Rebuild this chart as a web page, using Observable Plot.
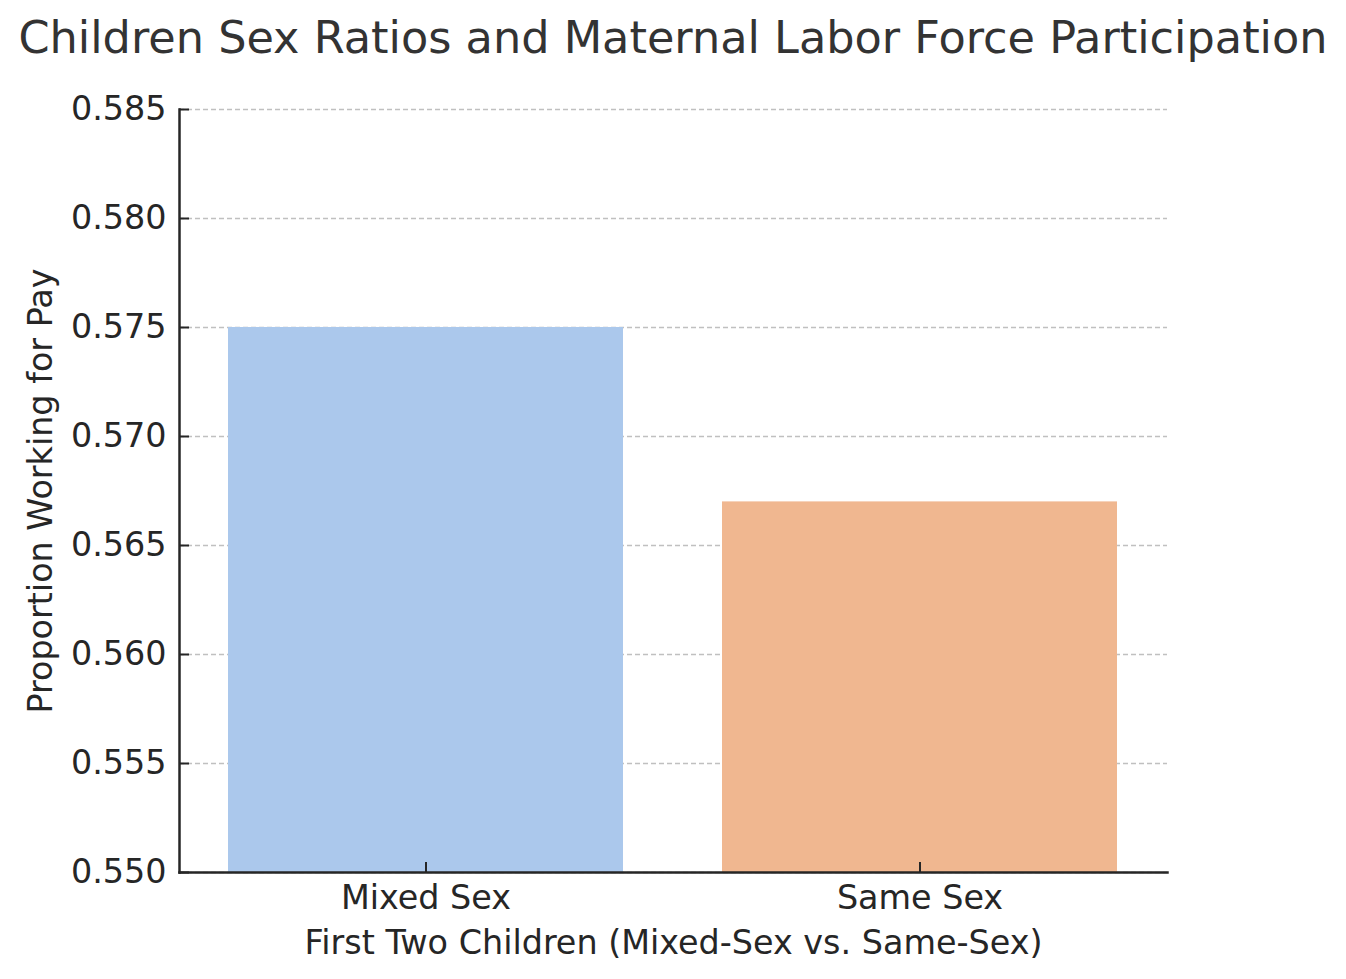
<!DOCTYPE html>
<html><head><meta charset="utf-8">
<script src="https://cdn.jsdelivr.net/npm/d3@7"></script>
<script src="https://cdn.jsdelivr.net/npm/@observablehq/plot@0.6"></script>
<style>
body{margin:0;background:#fff;}
#title{position:relative;height:90px;width:1346px;}
#title span{position:absolute;left:0;width:1346px;top:16px;text-align:center;font:44.6px/1 "DejaVu Sans";color:#333;white-space:nowrap;}
</style></head><body>
<div id="title"><span>Children Sex Ratios and Maternal Labor Force Participation</span></div>
<div id="chart"></div>
<script>
const categories = ["Mixed Sex", "Same Sex"];
const values = [0.575, 0.567];
const colors = ["#abc8ec", "#f0b790"];
const yTicks = [0.550, 0.555, 0.560, 0.565, 0.570, 0.575, 0.580, 0.585];
const yDomain = [0.550, 0.585];
const xLabel = "First Two Children (Mixed-Sex vs. Same-Sex)";
const yLabel = "Proportion Working for Pay";

const data = categories.map((c, i) => ({category: c, value: values[i], color: colors[i]}));
const ink = "#262626";
const fs = 33.4;

const chart = Plot.plot({
  width: 1346, height: 889,
  marginTop: 19, marginBottom: 107, marginLeft: 179, marginRight: 179,
  style: {fontFamily: "DejaVu Sans", fontSize: fs + "px", color: ink, background: "#fff"},
  x: {domain: categories, paddingInner: 0.2, paddingOuter: 0.1, axis: null},
  y: {domain: yDomain, axis: null},
  marks: [
    Plot.gridY(yTicks, {stroke: "#c0c0c0", strokeOpacity: 1, strokeWidth: 1.3, strokeDasharray: "5,3"}),
    Plot.barY(data, {x: "category", y1: yDomain[0], y2: "value", fill: "color"}),
    Plot.axisY({ticks: yTicks, tickSize: 0, tickPadding: 13, tickFormat: d3.format(".3f"), label: null}),
    Plot.axisY({ticks: yTicks, tickSize: 10, dx: 10, tickFormat: () => "", stroke: ink, strokeWidth: 2, label: null}),
    Plot.axisX({tickSize: 0, tickPadding: 13, label: null}),
    Plot.axisX({tickSize: 10, dy: -10, tickFormat: () => "", stroke: ink, strokeWidth: 2, label: null}),
    Plot.frame({anchor: "left", stroke: ink, strokeWidth: 2.5}),
    Plot.frame({anchor: "bottom", stroke: ink, strokeWidth: 2.5}),
    Plot.text([yLabel], {text: d => d, frameAnchor: "left", textAnchor: "middle", dx: -138.5, rotate: -90, lineAnchor: "middle", fontSize: fs, fill: ink}),
    Plot.text([xLabel], {text: d => d, frameAnchor: "bottom", dy: 81, lineAnchor: "bottom", fontSize: fs, fill: ink})
  ]
});
document.getElementById("chart").appendChild(chart);
</script>
</body></html>
